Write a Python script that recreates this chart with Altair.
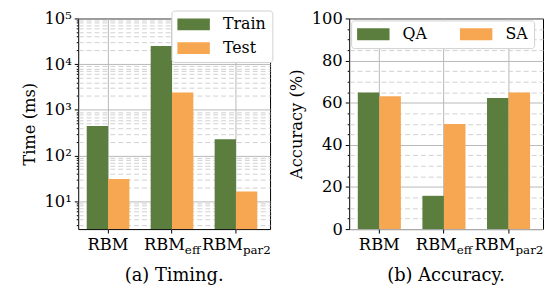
import altair as alt
import pandas as pd

categories = ["RBM", "RBM_eff", "RBM_par2"]
main_labels = ["RBM", "RBM", "RBM"]
sub_labels = ["", "eff", "par2"]

time_series = ["Train", "Test"]
train_ms = [440, 24800, 226]
test_ms = [30.7, 2400, 16.3]

acc_series = ["QA", "SA"]
qa_acc = [64.9, 15.8, 62.2]
sa_acc = [63.1, 49.9, 64.9]

log_domain = [2.45, 100000]
log_major = [10, 100, 1000, 10000, 100000]
log_minor = [m * d for d in [1, 10, 100, 1000, 10000] for m in range(2, 10) if m * d >= 3]
acc_domain = [0, 100]
acc_major = [0, 20, 40, 60, 80, 100]
acc_minor = [v for v in range(5, 100, 5) if v % 20 != 0]

GREEN = "#5b7e3f"
ORANGE = "#f7a651"
FONT = "DejaVu Serif"
W1, W2, H = 194, 196, 213
TICKFS = 16.5


def bar_frame(series, *values):
    rows = []
    for s, vals in zip(series, values):
        for c, v in zip(categories, vals):
            rows.append({"cat": c, "series": s, "key": f"{c}|{s}", "value": v})
    return pd.DataFrame(rows)


def band_domain(series):
    dom = []
    for i, c in enumerate(categories):
        if i:
            dom.append(f"gap{i}")
        dom += [f"{c}|{s}" for s in series]
    return dom


time_df = bar_frame(time_series, train_ms, test_ms)
acc_df = bar_frame(acc_series, qa_acc, sa_acc)

# horizontal offset of the junction between "RBM" and its subscript (style only)
junction_dx = {"eff": 13, "par2": 7}


def label_frame(series):
    return pd.DataFrame({"key": [f"{c}|{series[0]}" for c in categories],
                         "main": main_labels, "sub": sub_labels})


log_test = "abs(log(datum.value)/LN10 - round(log(datum.value)/LN10)) < 0.000001"
acc_test = "datum.value % 20 == 0"


def xenc(series, band_pos=None):
    kw = {}
    if band_pos is not None:
        kw["bandPosition"] = band_pos
    return alt.X(
        "key:N",
        scale=alt.Scale(type="band", domain=band_domain(series), paddingInner=0,
                        paddingOuter=0.5, align=0.4),
        axis=alt.Axis(labels=False, title=None, ticks=True, tickSize=4, tickColor="black",
                      domain=False, grid=True, gridColor="#b8b8b8", gridWidth=1,
                      bandPosition=1, values=[f"{c}|{series[0]}" for c in categories]),
        **kw,
    )


def yaxis(title, values, test, label_expr):
    return alt.Axis(
        title=title, values=values, labelExpr=label_expr,
        titleFont=FONT, titleFontSize=16.5, titleFontWeight="normal", titleColor="black",
        titlePadding=7,
        labelFont=FONT, labelFontSize=TICKFS, labelColor="black", labelPadding=3,
        tickColor="black", domain=False,
        tickSize={"condition": {"test": test, "value": 4}, "value": 2},
        grid=True,
        gridDash={"condition": {"test": test, "value": []}, "value": [5, 3]},
        gridColor={"condition": {"test": test, "value": "#b8b8b8"}, "value": "#d0d0d0"},
        labelOverlap=False,
    )


def label_layers(series):
    base = alt.Chart(label_frame(series))
    xe = xenc(series, 1)
    plain = base.transform_filter("datum.sub == ''").mark_text(
        font=FONT, fontSize=TICKFS, baseline="alphabetic", color="black", align="center"
    ).encode(x=xe, y=alt.value(H + 21), text="main:N")
    layers = [plain]
    for s in [x for x in sub_labels if x]:
        d = junction_dx[s]
        f = base.transform_filter(alt.datum.sub == s)
        layers.append(f.mark_text(font=FONT, fontSize=TICKFS, baseline="alphabetic", color="black",
                                  align="right", dx=d).encode(x=xe, y=alt.value(H + 21), text="main:N"))
        layers.append(f.mark_text(font=FONT, fontSize=12, baseline="alphabetic", color="black",
                                  align="left", dx=d).encode(x=xe, y=alt.value(H + 25), text="sub:N"))
    return layers


def legend(x, y, direction, columns=None, column_padding=None, row_padding=None):
    kw = dict(title=None, orient="none", legendX=x, legendY=y, direction=direction,
              symbolType="M-1,-0.75H3.1V0.75H-1Z", symbolSize=256, symbolStrokeWidth=0,
              symbolOpacity=1, labelFont=FONT, labelFontSize=16, labelColor="black",
              labelOffset=30, padding=6, strokeColor="#d0d0d0", fillColor="white",
              cornerRadius=3)
    if columns:
        kw["columns"] = columns
    if column_padding is not None:
        kw["columnPadding"] = column_padding
    if row_padding is not None:
        kw["rowPadding"] = row_padding
    return alt.Legend(**kw)


sup = "['⁰','¹','²','³','⁴','⁵','⁶']"

left_bars = alt.Chart(time_df).mark_bar().encode(
    x=xenc(time_series),
    y=alt.Y("value:Q", scale=alt.Scale(type="log", domain=log_domain, nice=False),
            axis=yaxis("Time (ms)", log_major + log_minor, log_test,
                       f"({log_test}) ? '10' + {sup}[round(log(datum.value)/LN10)] : ''")),
    y2=alt.datum(log_domain[0]),
    color=alt.Color("series:N", sort=time_series,
                    scale=alt.Scale(domain=time_series, range=[GREEN, ORANGE]),
                    legend=legend(94.3, -8, "vertical", row_padding=8)),
)

right_bars = alt.Chart(acc_df).mark_bar().encode(
    x=xenc(acc_series),
    y=alt.Y("value:Q", scale=alt.Scale(domain=acc_domain, nice=False),
            axis=yaxis("Accuracy (%)", acc_major + acc_minor, acc_test,
                       f"({acc_test}) ? format(datum.value, 'd') : ''")),
    color=alt.Color("series:N", sort=acc_series,
                    scale=alt.Scale(domain=acc_series, range=[GREEN, ORANGE]),
                    legend=legend(2, 2, "horizontal", columns=2, column_padding=33)),
)

cap = dict(orient="bottom", anchor="middle", font=FONT, fontSize=18, fontWeight="normal",
           color="black", offset=11)

left = alt.layer(left_bars, *label_layers(time_series)).properties(
    width=W1, height=H, title=alt.TitleParams("(a) Timing.", **cap))
right = alt.layer(right_bars, *label_layers(acc_series)).properties(
    width=W2, height=H, title=alt.TitleParams("(b) Accuracy.", **cap))

chart = alt.hconcat(left, right, spacing=80, bounds="flush").resolve_scale(
    color="independent", x="independent", y="independent"
).configure_view(stroke="black", strokeWidth=1).properties(
    padding={"left": 12, "top": 0, "right": 0, "bottom": 0}
)

chart.save("out.html", embed_options={"renderer": "svg", "actions": False})
